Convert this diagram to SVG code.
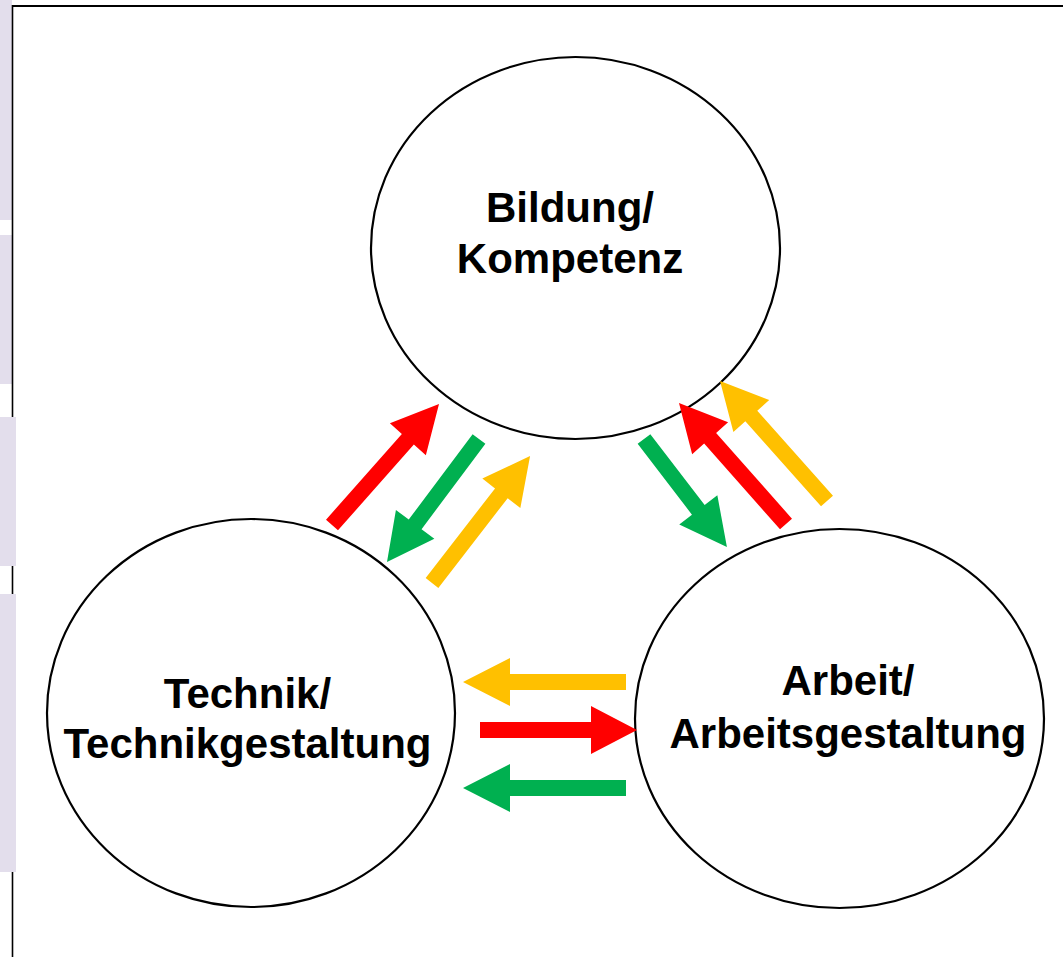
<svg xmlns="http://www.w3.org/2000/svg" width="1063" height="957" viewBox="0 0 1063 957">
<style>
.bar{fill:#E3DEEC}
.frame{stroke:#000;stroke-width:2;fill:none}
.node{fill:#fff;stroke:#000;stroke-width:2.2}
.lbl{font-family:"Liberation Sans",Arial,sans-serif;font-weight:bold;font-size:42px;fill:#000;text-anchor:middle}
.red{fill:#FF0000}
.green{fill:#00B050}
.yellow{fill:#FFC000}
</style>
<rect width="1063" height="957" fill="#fff"/>
<g id="frame">
<rect class="bar" x="0" y="0" width="12" height="220"/>
<rect class="bar" x="0" y="235" width="12" height="149"/>
<line class="frame" x1="12.5" y1="6" x2="1063" y2="6"/>
<line class="frame" x1="12.5" y1="5" x2="12.5" y2="957" style="stroke-width:1.6"/>
<rect class="bar" x="0" y="417" width="16" height="149"/>
<rect class="bar" x="0" y="594" width="16" height="278"/>
</g>
<g id="node-bildung">
<ellipse class="node" cx="575.5" cy="248" rx="204.5" ry="191"/>
<text class="lbl" x="570" y="222">Bildung/</text>
<text class="lbl" x="570" y="273">Kompetenz</text>
</g>
<g id="node-technik">
<ellipse class="node" cx="251" cy="713" rx="204" ry="194"/>
<text class="lbl" x="247.5" y="708">Technik/</text>
<text class="lbl" x="247.5" y="758">Technikgestaltung</text>
</g>
<g id="node-arbeit">
<ellipse class="node" cx="839.5" cy="718.5" rx="204.5" ry="189.5"/>
<text class="lbl" x="848" y="695">Arbeit/</text>
<text class="lbl" x="848" y="748">Arbeitsgestaltung</text>
</g>
<g id="connectors">
<path class="red" transform="translate(332,525) rotate(-48.5)" d="M0,-8 L114.5,-8 L114.5,-24 L161.5,0 L114.5,24 L114.5,8 L0,8 Z"/>
<path class="green" transform="translate(479,439) rotate(126.8)" d="M0,-8 L106.6,-8 L106.6,-24 L153.6,0 L106.6,24 L106.6,8 L0,8 Z"/>
<path class="yellow" transform="translate(432,583) rotate(-52.3)" d="M0,-8 L113.4,-8 L113.4,-24 L160.4,0 L113.4,24 L113.4,8 L0,8 Z"/>
<path class="green" transform="translate(644,439) rotate(52.5)" d="M0,-8 L89.2,-8 L89.2,-24 L136.2,0 L89.2,24 L89.2,8 L0,8 Z"/>
<path class="red" transform="translate(786,524) rotate(-131.5)" d="M0,-8 L114.5,-8 L114.5,-24 L161.5,0 L114.5,24 L114.5,8 L0,8 Z"/>
<path class="yellow" transform="translate(827,501) rotate(-131.7)" d="M0,-8 L113.8,-8 L113.8,-24 L160.8,0 L113.8,24 L113.8,8 L0,8 Z"/>
<path class="yellow" transform="translate(626,682) rotate(180)" d="M0,-8 L116,-8 L116,-24 L163,0 L116,24 L116,8 L0,8 Z"/>
<path class="red" transform="translate(480,730)" d="M0,-8 L111,-8 L111,-24 L157,0 L111,24 L111,8 L0,8 Z"/>
<path class="green" transform="translate(626,788) rotate(180)" d="M0,-8 L116,-8 L116,-24 L163,0 L116,24 L116,8 L0,8 Z"/>
</g>
</svg>
